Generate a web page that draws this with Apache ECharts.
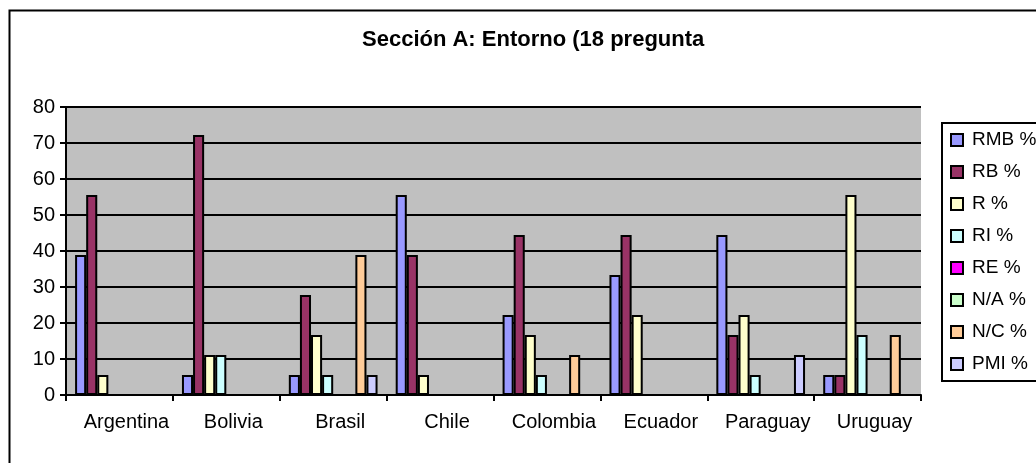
<!DOCTYPE html>
<html>
<head>
<meta charset="utf-8">
<script src="https://cdn.jsdelivr.net/npm/echarts@6/dist/echarts.min.js"></script>
<style>
  html, body { margin: 0; padding: 0; background: #ffffff; }
  #chart { width: 1036px; height: 463px; }
</style>
</head>
<body>
<div id="chart"></div>
<script>
// Countries on the category axis
const categories = ['Argentina', 'Bolivia', 'Brasil', 'Chile', 'Colombia', 'Ecuador', 'Paraguay', 'Uruguay'];

// Share of answers (%) per rating, over 18 questions
const rmbValues = [38.89, 5.56, 5.56, 55.56, 22.22, 33.33, 44.44, 5.56];
const rbValues  = [55.56, 72.22, 27.78, 38.89, 44.44, 44.44, 16.67, 5.56];
const rValues   = [5.56, 11.11, 16.67, 5.56, 16.67, 22.22, 22.22, 55.56];
const riValues  = [0, 11.11, 5.56, 0, 5.56, 0, 5.56, 16.67];
const reValues  = [0, 0, 0, 0, 0, 0, 0, 0];
const naValues  = [0, 0, 0, 0, 0, 0, 0, 0];
const ncValues  = [0, 0, 38.89, 0, 11.11, 0, 0, 16.67];
const pmiValues = [0, 0, 5.56, 0, 0, 0, 11.11, 0];

const seriesNames = ['RMB %', 'RB %', 'R %', 'RI %', 'RE %', 'N/A %', 'N/C %', 'PMI %'];
const seriesValues = [rmbValues, rbValues, rValues, riValues, reValues, naValues, ncValues, pmiValues];
const seriesColors = ['#9999ff', '#993366', '#ffffcc', '#ccffff', '#ff00ff', '#ccffcc', '#ffcc99', '#ccccff'];

const yTicks = { min: 0, max: 80, interval: 10 };
const titleText = 'Sección A: Entorno (18 preguntas)';

const FONT = "'Liberation Sans', Arial, sans-serif";

const chart = echarts.init(document.getElementById('chart'), null, { renderer: 'canvas' });

chart.setOption({
  animation: false,
  backgroundColor: '#ffffff',
  textStyle: { fontFamily: FONT, color: '#000' },
  title: {
    text: titleText,
    left: 362,
    top: 29,
    padding: 0,
    textStyle: {
      fontFamily: FONT,
      fontSize: 22,
      fontWeight: 'bold',
      color: '#000',
      width: 352,
      overflow: 'truncate',
      ellipsis: ''
    }
  },
  graphic: [
    {
      type: 'rect',
      z: -10,
      shape: { x: 9.5, y: 10.5, width: 1200, height: 1000 },
      style: { fill: 'none', stroke: '#000', lineWidth: 2 }
    },
    {
      type: 'rect',
      z: 0,
      shape: { x: 942, y: 123, width: 200, height: 258 },
      style: { fill: '#ffffff', stroke: '#000', lineWidth: 2 }
    }
  ],
  legend: {
    orient: 'vertical',
    left: 950,
    top: 130,
    padding: 0,
    itemGap: 12,
    itemWidth: 12,
    itemHeight: 12,
    icon: 'rect',
    selectedMode: false,
    itemStyle: { borderColor: '#000', borderWidth: 2 },
    textStyle: {
      fontFamily: FONT,
      fontSize: 19,
      color: '#000',
      lineHeight: 20,
      padding: [0, 0, 0, 4]
    },
    data: seriesNames
  },
  grid: {
    left: 66,
    right: 115,
    top: 107,
    bottom: 68,
    show: true,
    backgroundColor: '#c0c0c0',
    borderWidth: 0,
    containLabel: false
  },
  xAxis: {
    type: 'category',
    data: categories,
    boundaryGap: true,
    axisLine: { show: true, lineStyle: { color: '#000', width: 2 } },
    axisTick: { show: true, length: 6, inside: false, lineStyle: { color: '#000', width: 2 } },
    axisLabel: {
      fontFamily: FONT,
      fontSize: 20,
      color: '#000',
      margin: 17,
      interval: 0,
      padding: [0, 0, 0, 14]
    },
    splitLine: { show: false }
  },
  yAxis: {
    type: 'value',
    min: yTicks.min,
    max: yTicks.max,
    interval: yTicks.interval,
    axisLine: { show: true, lineStyle: { color: '#000', width: 2 } },
    axisTick: { show: true, length: 6, inside: false, lineStyle: { color: '#000', width: 2 } },
    axisLabel: { fontFamily: FONT, fontSize: 20, color: '#000', margin: 11 },
    splitLine: { show: true, lineStyle: { color: '#000', width: 2 } }
  },
  series: seriesNames.map((name, i) => ({
    name: name,
    type: 'bar',
    data: seriesValues[i],
    barGap: '0%',
    barCategoryGap: '17%',
    itemStyle: { color: seriesColors[i], borderColor: '#000', borderWidth: 2 },
    emphasis: { disabled: true }
  }))
});
</script>
</body>
</html>
